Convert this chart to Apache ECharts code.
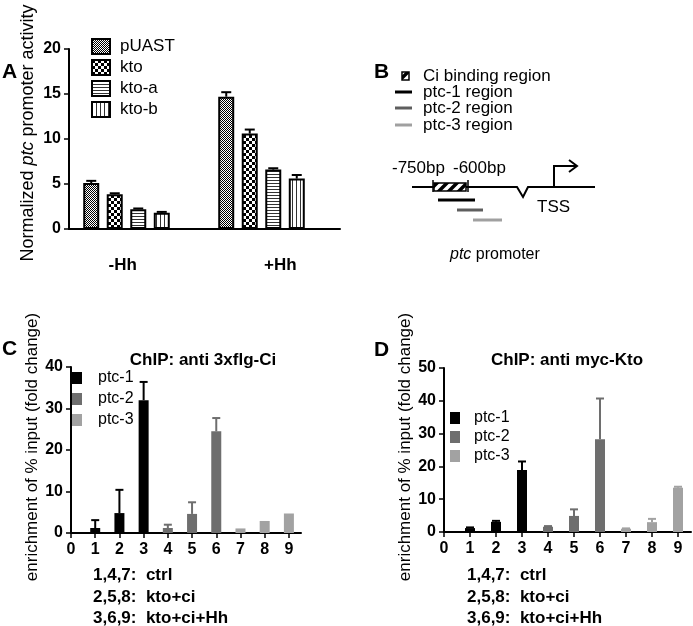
<!DOCTYPE html>
<html>
<head>
<meta charset="utf-8">
<script src="https://cdn.jsdelivr.net/npm/echarts@6/dist/echarts.min.js"></script>
<style>
  html, body { margin: 0; padding: 0; background: #fff; }
  #chart { width: 693px; height: 626px; }
</style>
</head>
<body>
<div id="chart"></div>
<script>
const FONT = '"Liberation Sans", Arial, sans-serif'

// Panel A: normalized ptc promoter activity
const groupsA = ['-Hh', '+Hh']
const namesA = ['pUAST', 'kto', 'kto-a', 'kto-b']
const pUAST = [5.1, 14.7]
const pUASTErr = [0.25, 0.5]
const kto = [3.85, 10.6]
const ktoErr = [0.12, 0.45]
const ktoA = [2.2, 6.6]
const ktoAErr = [0.08, 0.15]
const ktoB = [1.8, 5.6]
const ktoBErr = [0.1, 0.4]

// Panels C/D: ChIP enrichment, lanes 1..9
const xTicks = [0, 1, 2, 3, 4, 5, 6, 7, 8, 9]
const ptcNames = ['ptc-1', 'ptc-2', 'ptc-3']
const ptcColors = ['#000000', '#6e6e6e', '#a2a2a2']
const lanes1 = [1, 2, 3]
const lanes2 = [4, 5, 6]
const lanes3 = [7, 8, 9]

const cPtc1 = [1.2, 4.8, 32.0]
const cPtc1Err = [1.9, 5.6, 4.4]
const cPtc2 = [1.2, 4.6, 24.5]
const cPtc2Err = [0.8, 2.8, 3.2]
const cPtc3 = [1.1, 2.9, 4.7]
const cPtc3Err = [0, 0, 0]

const dPtc1 = [1.2, 3.1, 18.9]
const dPtc1Err = [0.2, 0.3, 2.6]
const dPtc2 = [1.6, 4.9, 28.3]
const dPtc2Err = [0.2, 2.0, 12.4]
const dPtc3 = [1.0, 3.0, 13.5]
const dPtc3Err = [0.1, 1.0, 0.3]

// fill patterns
const makePattern = (w, h, draw) => {
  const c = document.createElement('canvas')
  c.width = w
  c.height = h
  const ctx = c.getContext('2d')
  ctx.fillStyle = '#fff'
  ctx.fillRect(0, 0, w, h)
  ctx.fillStyle = '#000'
  ctx.strokeStyle = '#000'
  draw(ctx)
  return { image: c, repeat: 'repeat' }
}
const patterns = [
  makePattern(2, 2, ctx => { ctx.fillRect(0, 0, 1, 1); ctx.fillRect(1, 1, 1, 1) }),
  makePattern(6, 6, ctx => { ctx.fillRect(0, 0, 3, 3); ctx.fillRect(3, 3, 3, 3) }),
  makePattern(1, 3, ctx => { ctx.fillStyle = '#333'; ctx.fillRect(0, 0, 1, 1) }),
  makePattern(4, 1, ctx => { ctx.fillStyle = '#333'; ctx.fillRect(0, 0, 1, 1) })
]
const hatch = makePattern(10, 10, ctx => {
  ctx.lineWidth = 3.5
  ctx.beginPath()
  ctx.moveTo(-5, 5); ctx.lineTo(5, -5)
  ctx.moveTo(0, 10); ctx.lineTo(10, 0)
  ctx.moveTo(5, 15); ctx.lineTo(15, 5)
  ctx.stroke()
})

const valsA = [pUAST, kto, ktoA, ktoB]
const errsA = [pUASTErr, ktoErr, ktoAErr, ktoBErr]

// bar layout in panel A (px)
const barWA = 16
const pitchA = 23.5

const errorBar = (colorOf, capHalf, offsetOf) => (params, api) => {
  const err = api.value(2)
  if (!(err > 0)) return
  const si = api.value(3)
  const p0 = api.coord([api.value(0), api.value(1)])
  const p1 = api.coord([api.value(0), api.value(1) + err])
  const x = p0[0] + (offsetOf ? offsetOf(si) : 0)
  const style = { stroke: colorOf(si), lineWidth: 2 }
  return {
    type: 'group',
    children: [
      { type: 'line', shape: { x1: x, y1: p0[1], x2: x, y2: p1[1] }, style },
      { type: 'line', shape: { x1: x - capHalf, y1: p1[1], x2: x + capHalf, y2: p1[1] }, style }
    ]
  }
}

const errDataA = []
valsA.forEach((vals, si) => vals.forEach((v, gi) => errDataA.push([gi, v, errsA[si][gi], si])))

const buildChip = (vals, errs) => {
  const lanes = [lanes1, lanes2, lanes3]
  const bars = vals.map((v, si) => v.map((y, i) => [lanes[si][i], y]))
  const errData = []
  vals.forEach((v, si) => v.forEach((y, i) => errData.push([lanes[si][i], y, errs[si][i], si])))
  return { bars, errData }
}
const chipC = buildChip([cPtc1, cPtc2, cPtc3], [cPtc1Err, cPtc2Err, cPtc3Err])
const chipD = buildChip([dPtc1, dPtc2, dPtc3], [dPtc1Err, dPtc2Err, dPtc3Err])

const boldTick = { color: '#000', fontSize: 16, fontWeight: 'bold', fontFamily: FONT }
const blackLine = { color: '#000', width: 2 }

const valueX = (gridIndex) => ({
  gridIndex, type: 'value', min: 0, max: 9.5, interval: 1,
  axisLine: { lineStyle: blackLine },
  axisTick: { customValues: xTicks, length: 5, lineStyle: { color: '#000', width: 1.5 } },
  axisLabel: { customValues: xTicks, margin: 9, ...boldTick },
  splitLine: { show: false }
})
const valueY = (gridIndex, max, nameGap) => ({
  gridIndex, type: 'value', min: 0, max, interval: 10,
  name: 'enrichment of % input (fold change)', nameLocation: 'middle', nameGap,
  nameTextStyle: { fontSize: 17, fontFamily: FONT, color: '#000', padding: [0, 0, 0, 6] },
  axisLine: { show: true, lineStyle: blackLine },
  axisTick: { show: true, length: 5, lineStyle: { color: '#000', width: 1.5 } },
  axisLabel: { margin: 8, ...boldTick },
  splitLine: { show: false }
})

const chipSeries = (chip, axisIndex) => [
  ...chip.bars.map((data, si) => ({
    name: ptcNames[si], type: 'bar', xAxisIndex: axisIndex, yAxisIndex: axisIndex,
    data, barWidth: 10, barGap: '-100%',
    itemStyle: { color: ptcColors[si] }
  })),
  {
    type: 'custom', xAxisIndex: axisIndex, yAxisIndex: axisIndex, z: 5,
    data: chip.errData, encode: { x: 0, y: 1 },
    renderItem: errorBar(si => ptcColors[si], 4)
  }
]

const text = (x, y, str, opts = {}) => ({
  type: 'text', x, y,
  style: {
    text: str, fill: '#000', fontFamily: FONT, fontSize: opts.size || 16,
    fontWeight: opts.bold ? 'bold' : 'normal',
    align: opts.align || 'left', verticalAlign: 'middle',
    textAlign: opts.align || 'left', textVerticalAlign: 'middle',
    rich: opts.rich
  }
})
const seg = (x1, y1, x2, y2, color, w) => ({
  type: 'line', shape: { x1, y1, x2, y2 }, style: { stroke: color, lineWidth: w }
})
const poly = (points, w) => ({
  type: 'polyline', shape: { points }, style: { stroke: '#000', lineWidth: w, fill: null }
})

const chart = echarts.init(document.getElementById('chart'))
chart.setOption({
  animation: false,
  textStyle: { fontFamily: FONT },
  grid: [
    { left: 69, top: 49, width: 271, height: 180 },
    { left: 59, top: 49, width: 270, height: 180 },
    { left: 71, top: 367, width: 230, height: 166 },
    { left: 444, top: 368, width: 247, height: 164 }
  ],
  xAxis: [
    {
      gridIndex: 0, type: 'category', data: groupsA,
      axisLine: { lineStyle: blackLine },
      axisTick: { alignWithLabel: true, length: 5, lineStyle: { color: '#000', width: 1.5 } },
      axisLabel: {
        margin: 28,
        formatter: v => v === '-Hh' ? '{l|-Hh}' : '{r|+Hh}',
        rich: {
          l: { ...boldTick, fontSize: 17, padding: [0, 28, 0, 0] },
          r: { ...boldTick, fontSize: 17, padding: [0, 0, 0, 16] }
        }
      }
    },
    { gridIndex: 1, type: 'category', data: groupsA, show: false },
    valueX(2),
    valueX(3)
  ],
  yAxis: [
    {
      gridIndex: 0, type: 'value', min: 0, max: 20, interval: 5,
      name: 'Normalized {i|ptc} promoter activity', nameLocation: 'middle', nameGap: 32,
      nameTextStyle: {
        fontSize: 18, fontFamily: FONT, color: '#000', padding: [0, 0, 0, 12],
        rich: { i: { fontStyle: 'italic', fontSize: 18, fontFamily: FONT, color: '#000' } }
      },
      axisLine: { show: true, lineStyle: blackLine },
      axisTick: { show: true, length: 5, lineStyle: { color: '#000', width: 1.5 } },
      axisLabel: { margin: 8, ...boldTick },
      splitLine: { show: false }
    },
    { gridIndex: 1, type: 'value', min: 0, max: 20, show: false },
    valueY(2, 40, 28),
    valueY(3, 50, 27)
  ],
  legend: [
    {
      data: namesA, orient: 'vertical', left: 91, top: 38, padding: 0, icon: 'rect',
      itemWidth: 18, itemHeight: 15, itemGap: 4, selectedMode: false,
      textStyle: { fontSize: 17, fontFamily: FONT, color: '#000', padding: [0, 0, 0, 5] }
    },
    {
      data: ptcNames, orient: 'vertical', left: 72, top: 370, padding: 0, icon: 'rect',
      itemWidth: 10, itemHeight: 12, itemGap: 5, selectedMode: false,
      textStyle: { fontSize: 16, fontFamily: FONT, color: '#000', padding: [0, 0, 0, 11] }
    },
    {
      data: ptcNames, orient: 'vertical', left: 450, top: 410, padding: 0, icon: 'rect',
      itemWidth: 10, itemHeight: 12, itemGap: 3, selectedMode: false,
      textStyle: { fontSize: 16, fontFamily: FONT, color: '#000', padding: [0, 0, 0, 9] }
    }
  ],
  series: [
    ...valsA.map((data, si) => ({
      name: namesA[si], type: 'bar', xAxisIndex: 1, yAxisIndex: 1,
      data, barWidth: barWA, barGap: '47%',
      itemStyle: { color: patterns[si], borderColor: '#000', borderWidth: 2 }
    })),
    {
      type: 'custom', xAxisIndex: 1, yAxisIndex: 1, z: 5,
      data: errDataA, encode: { x: 0, y: 1 },
      renderItem: errorBar(() => '#000', 5, si => (si - 1.5) * pitchA)
    },
    ...chipSeries(chipC, 2),
    ...chipSeries(chipD, 3)
  ],
  graphic: [
    // panel letters
    text(2, 72, 'A', { bold: true, size: 21 }),
    text(374, 72, 'B', { bold: true, size: 21 }),
    text(2, 349, 'C', { bold: true, size: 21 }),
    text(374, 350, 'D', { bold: true, size: 21 }),
    // titles
    text(203, 360, 'ChIP: anti 3xflg-Ci', { bold: true, size: 17, align: 'center' }),
    text(567, 360, 'ChIP: anti myc-Kto', { bold: true, size: 17, align: 'center' }),
    // lane keys
    text(93, 575, '1,4,7:  ctrl', { bold: true, size: 17 }),
    text(93, 597, '2,5,8:  kto+ci', { bold: true, size: 17 }),
    text(93, 618, '3,6,9:  kto+ci+Hh', { bold: true, size: 17 }),
    text(467, 575, '1,4,7:  ctrl', { bold: true, size: 17 }),
    text(467, 597, '2,5,8:  kto+ci', { bold: true, size: 17 }),
    text(467, 618, '3,6,9:  kto+ci+Hh', { bold: true, size: 17 }),
    // panel B legend
    { type: 'rect', shape: { x: 402, y: 72, width: 7, height: 8 }, style: { fill: hatch, stroke: '#000', lineWidth: 1.5 } },
    text(423, 76, 'Ci binding region', { size: 17 }),
    seg(395, 92, 412, 92, '#000', 3),
    text(423, 92, 'ptc-1 region', { size: 17 }),
    seg(395, 108, 412, 108, '#5e5e5e', 3),
    text(423, 108, 'ptc-2 region', { size: 17 }),
    seg(395, 125, 412, 125, '#a0a0a0', 3),
    text(423, 125, 'ptc-3 region', { size: 17 }),
    // panel B promoter diagram
    text(392, 168, '-750bp', { size: 17 }),
    text(453, 168, '-600bp', { size: 17 }),
    poly([[412, 187], [517, 187], [523, 197], [528, 187], [595, 187]], 2),
    seg(433, 180, 433, 192, '#000', 1.5),
    seg(468, 180, 468, 192, '#000', 1.5),
    { type: 'rect', shape: { x: 434, y: 183, width: 32, height: 8 }, style: { fill: hatch, stroke: '#000', lineWidth: 1.5 } },
    poly([[554, 187], [554, 166], [576, 166]], 2),
    poly([[569, 160], [577, 166], [569, 172]], 2),
    text(537, 207, 'TSS', { size: 17 }),
    seg(438, 200, 475, 200, '#000', 3),
    seg(457, 210, 483, 210, '#5e5e5e', 3),
    seg(473, 220, 502, 220, '#a0a0a0', 3),
    text(450, 255, '{i|ptc} promoter', {
      size: 16,
      rich: { i: { fontStyle: 'italic', fontSize: 16, fontFamily: FONT, fill: '#000' } }
    })
  ]
})
</script>
</body>
</html>
